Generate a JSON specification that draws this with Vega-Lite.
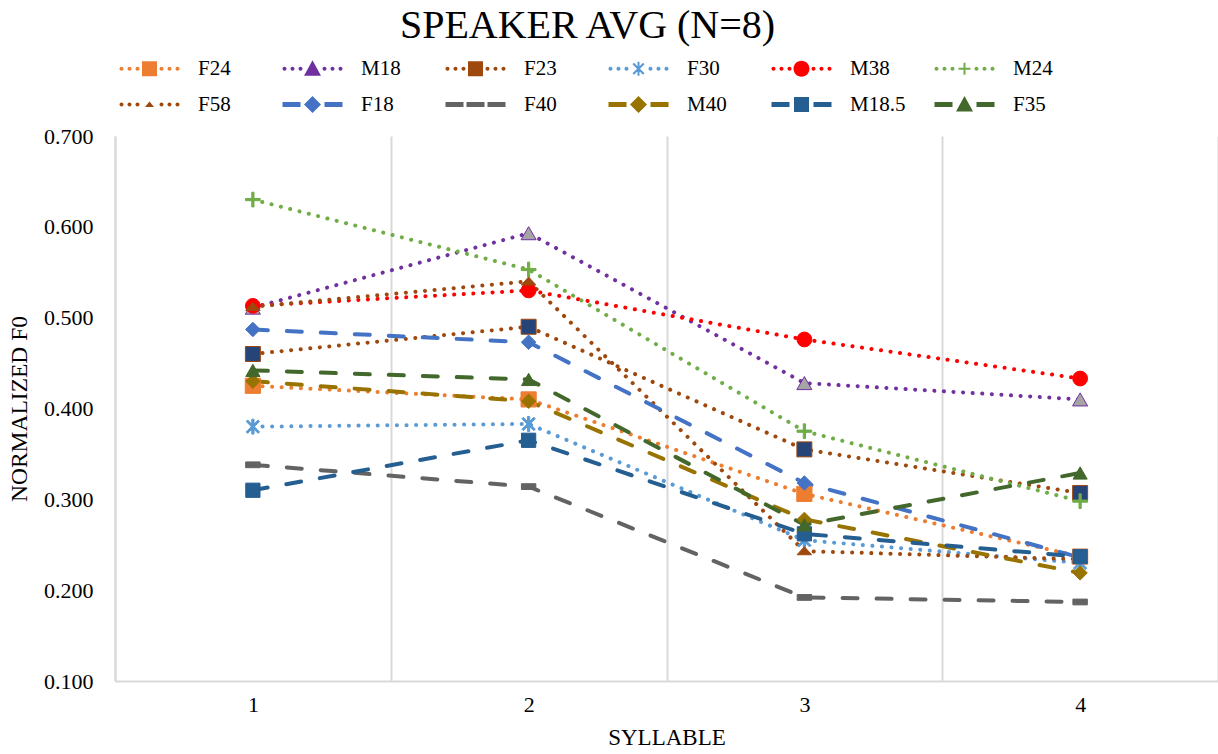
{
  "$schema": "https://vega.github.io/schema/vega-lite/v6.json",
  "width": 1103,
  "height": 545,
  "autosize": {"type": "none"},
  "padding": {"left": 115, "top": 136, "right": 0, "bottom": 73},
  "background": "white",
  "config": {"view": {"stroke": null}, "font": "Liberation Serif"},
  "title": {
    "text": "SPEAKER AVG (N=8)",
    "font": "Liberation Serif",
    "fontSize": 40,
    "fontWeight": "normal",
    "color": "#000000",
    "anchor": "middle",
    "frame": "group",
    "dx": -79,
    "offset": 12
  },
  "data": {
    "values": [
      {"s": "F24", "syllable": 1, "f0": 0.425}, {"s": "F24", "syllable": 2, "f0": 0.410}, {"s": "F24", "syllable": 3, "f0": 0.306}, {"s": "F24", "syllable": 4, "f0": 0.237},
      {"s": "M18", "syllable": 1, "f0": 0.511}, {"s": "M18", "syllable": 2, "f0": 0.593}, {"s": "M18", "syllable": 3, "f0": 0.428}, {"s": "M18", "syllable": 4, "f0": 0.410},
      {"s": "F23", "syllable": 1, "f0": 0.460}, {"s": "F23", "syllable": 2, "f0": 0.490}, {"s": "F23", "syllable": 3, "f0": 0.355}, {"s": "F23", "syllable": 4, "f0": 0.307},
      {"s": "F30", "syllable": 1, "f0": 0.380}, {"s": "F30", "syllable": 2, "f0": 0.383}, {"s": "F30", "syllable": 3, "f0": 0.255}, {"s": "F30", "syllable": 4, "f0": 0.230},
      {"s": "M38", "syllable": 1, "f0": 0.513}, {"s": "M38", "syllable": 2, "f0": 0.530}, {"s": "M38", "syllable": 3, "f0": 0.476}, {"s": "M38", "syllable": 4, "f0": 0.433},
      {"s": "M24", "syllable": 1, "f0": 0.630}, {"s": "M24", "syllable": 2, "f0": 0.553}, {"s": "M24", "syllable": 3, "f0": 0.375}, {"s": "M24", "syllable": 4, "f0": 0.298},
      {"s": "F58", "syllable": 1, "f0": 0.512}, {"s": "F58", "syllable": 2, "f0": 0.540}, {"s": "F58", "syllable": 3, "f0": 0.243}, {"s": "F58", "syllable": 4, "f0": 0.234},
      {"s": "F18", "syllable": 1, "f0": 0.487}, {"s": "F18", "syllable": 2, "f0": 0.473}, {"s": "F18", "syllable": 3, "f0": 0.318}, {"s": "F18", "syllable": 4, "f0": 0.236},
      {"s": "F40", "syllable": 1, "f0": 0.338}, {"s": "F40", "syllable": 2, "f0": 0.314}, {"s": "F40", "syllable": 3, "f0": 0.192}, {"s": "F40", "syllable": 4, "f0": 0.187},
      {"s": "M40", "syllable": 1, "f0": 0.430}, {"s": "M40", "syllable": 2, "f0": 0.408}, {"s": "M40", "syllable": 3, "f0": 0.278}, {"s": "M40", "syllable": 4, "f0": 0.219},
      {"s": "M18.5", "syllable": 1, "f0": 0.310}, {"s": "M18.5", "syllable": 2, "f0": 0.365}, {"s": "M18.5", "syllable": 3, "f0": 0.262}, {"s": "M18.5", "syllable": 4, "f0": 0.237},
      {"s": "F35", "syllable": 1, "f0": 0.442}, {"s": "F35", "syllable": 2, "f0": 0.432}, {"s": "F35", "syllable": 3, "f0": 0.272}, {"s": "F35", "syllable": 4, "f0": 0.329}
    ]
  },
  "encoding": {
    "x": {
      "field": "syllable",
      "type": "ordinal",
      "scale": {"type": "band", "paddingInner": 0, "paddingOuter": 0},
      "axis": {
        "title": "SYLLABLE",
        "tickBand": "extent",
        "grid": true,
        "gridColor": "#D9D9D9",
        "gridWidth": 2,
        "domainColor": "#D9D9D9",
        "domainWidth": 2,
        "ticks": false,
        "labelAngle": 0,
        "labelFont": "Liberation Serif",
        "labelFontSize": 22,
        "labelColor": "#000000",
        "labelPadding": 13,
        "titleFont": "Liberation Serif",
        "titleFontSize": 23,
        "titleFontWeight": "normal",
        "titleColor": "#000000",
        "titlePadding": 11
      }
    },
    "y": {
      "field": "f0",
      "type": "quantitative",
      "scale": {"domain": [0.1, 0.7], "nice": false, "zero": false},
      "axis": {
        "title": "NORMALIZED F0",
        "values": [0.1, 0.2, 0.3, 0.4, 0.5, 0.6, 0.7],
        "format": ".3f",
        "grid": false,
        "domainColor": "#D9D9D9",
        "domainWidth": 2,
        "ticks": false,
        "labelFont": "Liberation Serif",
        "labelFontSize": 22,
        "labelColor": "#000000",
        "labelPadding": 22,
        "titleFont": "Liberation Serif",
        "titleFontSize": 23.5,
        "titleFontWeight": "normal",
        "titleColor": "#000000",
        "titlePadding": 12
      }
    }
  },
  "layer": [
    {
      "mark": {"type": "line", "strokeCap": "round", "strokeJoin": "round"},
      "encoding": {
        "color": {
          "field": "s", "type": "nominal", "legend": null,
          "scale": {
            "domain": ["F24", "M18", "F23", "F30", "M38", "M24", "F58", "F18", "F40", "M40", "M18.5", "F35"],
            "range": ["#ED7D31", "#7030A0", "#9E480E", "#5B9BD5", "#FF0000", "#70AD47", "#9E480E", "#4472C4", "#636363", "#997300", "#255E91", "#43682B"]
          }
        },
        "strokeDash": {
          "field": "s", "type": "nominal", "legend": null,
          "scale": {
            "domain": ["F24", "M18", "F23", "F30", "M38", "M24", "F58", "F18", "F40", "M40", "M18.5", "F35"],
            "range": [[0.1, 9.5], [0.1, 9.5], [0.1, 9.5], [0.1, 9.5], [0.1, 9.5], [0.1, 9.5], [0.1, 9.5], [15, 19], [15, 19], [15, 19], [15, 19], [15, 19]]
          }
        },
        "strokeWidth": {
          "field": "s", "type": "nominal", "legend": null,
          "scale": {
            "domain": ["F24", "M18", "F23", "F30", "M38", "M24", "F58", "F18", "F40", "M40", "M18.5", "F35"],
            "range": [4, 4, 4, 4, 4, 4, 4, 5, 5, 5, 5, 5]
          }
        }
      }
    },
    {
      "mark": {"type": "point", "filled": true, "opacity": 1, "strokeWidth": 1},
      "encoding": {
        "shape": {
          "field": "s", "type": "nominal", "legend": null,
          "scale": {
            "domain": ["F24", "M18", "F23", "F30", "M38", "M24", "F58", "F18", "F40", "M40", "M18.5", "F35"],
            "range": [
              "square",
              "triangle-up",
              "square",
              "M-0.9,-0.7L-0.7,-0.9L0.9,0.7L0.7,0.9ZM0.7,-0.9L0.9,-0.7L-0.7,0.9L-0.9,0.7ZM-0.15,-1H0.15V1H-0.15Z",
              "circle",
              "M-1,-0.15H1V0.15H-1ZM-0.15,-1H0.15V1H-0.15Z",
              "M-1,0.5L0,-0.6L1,0.5Z",
              "diamond",
              "M-1,-0.4H1V0.4H-1Z",
              "diamond",
              "square",
              "triangle-up"
            ]
          }
        },
        "size": {
          "field": "s", "type": "nominal", "legend": null,
          "scale": {
            "domain": ["F24", "M18", "F23", "F30", "M38", "M24", "F58", "F18", "F40", "M40", "M18.5", "F35"],
            "range": [230, 200, 240, 160, 220, 130, 50, 260, 110, 260, 300, 260]
          }
        },
        "fill": {
          "field": "s", "type": "nominal", "legend": null,
          "scale": {
            "domain": ["F24", "M18", "F23", "F30", "M38", "M24", "F58", "F18", "F40", "M40", "M18.5", "F35"],
            "range": ["#ED7D31", "#A5A5A5", "#264478", "#5B9BD5", "#FF0000", "#70AD47", "#9E480E", "#4472C4", "#636363", "#997300", "#255E91", "#43682B"]
          }
        },
        "stroke": {
          "field": "s", "type": "nominal", "legend": null,
          "scale": {
            "domain": ["F24", "M18", "F23", "F30", "M38", "M24", "F58", "F18", "F40", "M40", "M18.5", "F35"],
            "range": ["#ED7D31", "#7030A0", "#9E480E", "#5B9BD5", "#FF0000", "#70AD47", "#9E480E", "#4472C4", "#636363", "#997300", "#255E91", "#43682B"]
          }
        }
      }
    },
    {
      "mark": {"type": "point", "filled": true, "opacity": 0},
      "encoding": {
        "color": {
          "field": "s", "type": "nominal",
          "scale": {
            "domain": ["F24", "M18", "F23", "F30", "M38", "M24", "F58", "F18", "F40", "M40", "M18.5", "F35"],
            "range": ["#ED7D31", "#7030A0", "#9E480E", "#5B9BD5", "#FF0000", "#70AD47", "#9E480E", "#4472C4", "#636363", "#997300", "#255E91", "#43682B"]
          },
          "legend": {
            "orient": "none", "legendX": 24, "legendY": -78, "direction": "horizontal", "columns": 6,
            "gridAlign": "all", "columnPadding": 28, "rowPadding": 14, "title": null,
            "labelFont": "Liberation Serif", "labelFontSize": 21, "labelColor": "#000000", "labelOffset": 38,
            "symbolSize": 400, "symbolOpacity": 1, "symbolStrokeWidth": 0
          }
        },
        "shape": {
          "field": "s", "type": "nominal",
          "scale": {
            "domain": ["F24", "M18", "F23", "F30", "M38", "M24", "F58", "F18", "F40", "M40", "M18.5", "F35"],
            "range": [
              "M-3,0A0.2,0.2 0 1 0 -2.6,0A0.2,0.2 0 1 0 -3,0ZM-2.2,0A0.2,0.2 0 1 0 -1.8,0A0.2,0.2 0 1 0 -2.2,0ZM-1.4,0A0.2,0.2 0 1 0 -1,0A0.2,0.2 0 1 0 -1.4,0ZM1,0A0.2,0.2 0 1 0 1.4,0A0.2,0.2 0 1 0 1,0ZM1.8,0A0.2,0.2 0 1 0 2.2,0A0.2,0.2 0 1 0 1.8,0ZM2.6,0A0.2,0.2 0 1 0 3,0A0.2,0.2 0 1 0 2.6,0ZM-0.75,-0.75H0.75V0.75H-0.75Z",
              "M-3,0A0.2,0.2 0 1 0 -2.6,0A0.2,0.2 0 1 0 -3,0ZM-2.2,0A0.2,0.2 0 1 0 -1.8,0A0.2,0.2 0 1 0 -2.2,0ZM-1.4,0A0.2,0.2 0 1 0 -1,0A0.2,0.2 0 1 0 -1.4,0ZM1,0A0.2,0.2 0 1 0 1.4,0A0.2,0.2 0 1 0 1,0ZM1.8,0A0.2,0.2 0 1 0 2.2,0A0.2,0.2 0 1 0 1.8,0ZM2.6,0A0.2,0.2 0 1 0 3,0A0.2,0.2 0 1 0 2.6,0ZM0,-0.85L0.85,0.7H-0.85Z",
              "M-3,0A0.2,0.2 0 1 0 -2.6,0A0.2,0.2 0 1 0 -3,0ZM-2.2,0A0.2,0.2 0 1 0 -1.8,0A0.2,0.2 0 1 0 -2.2,0ZM-1.4,0A0.2,0.2 0 1 0 -1,0A0.2,0.2 0 1 0 -1.4,0ZM1,0A0.2,0.2 0 1 0 1.4,0A0.2,0.2 0 1 0 1,0ZM1.8,0A0.2,0.2 0 1 0 2.2,0A0.2,0.2 0 1 0 1.8,0ZM2.6,0A0.2,0.2 0 1 0 3,0A0.2,0.2 0 1 0 2.6,0ZM-0.75,-0.75H0.75V0.75H-0.75Z",
              "M-3,0A0.2,0.2 0 1 0 -2.6,0A0.2,0.2 0 1 0 -3,0ZM-2.2,0A0.2,0.2 0 1 0 -1.8,0A0.2,0.2 0 1 0 -2.2,0ZM-1.4,0A0.2,0.2 0 1 0 -1,0A0.2,0.2 0 1 0 -1.4,0ZM1,0A0.2,0.2 0 1 0 1.4,0A0.2,0.2 0 1 0 1,0ZM1.8,0A0.2,0.2 0 1 0 2.2,0A0.2,0.2 0 1 0 1.8,0ZM2.6,0A0.2,0.2 0 1 0 3,0A0.2,0.2 0 1 0 2.6,0ZM-0.6,-0.45L-0.45,-0.6L0.6,0.45L0.45,0.6ZM0.45,-0.6L0.6,-0.45L-0.45,0.6L-0.6,0.45ZM-0.1,-0.7H0.1V0.7H-0.1Z",
              "M-3,0A0.2,0.2 0 1 0 -2.6,0A0.2,0.2 0 1 0 -3,0ZM-2.2,0A0.2,0.2 0 1 0 -1.8,0A0.2,0.2 0 1 0 -2.2,0ZM-1.4,0A0.2,0.2 0 1 0 -1,0A0.2,0.2 0 1 0 -1.4,0ZM1,0A0.2,0.2 0 1 0 1.4,0A0.2,0.2 0 1 0 1,0ZM1.8,0A0.2,0.2 0 1 0 2.2,0A0.2,0.2 0 1 0 1.8,0ZM2.6,0A0.2,0.2 0 1 0 3,0A0.2,0.2 0 1 0 2.6,0ZM-0.8,0A0.8,0.8 0 1 0 0.8,0A0.8,0.8 0 1 0 -0.8,0Z",
              "M-3,0A0.2,0.2 0 1 0 -2.6,0A0.2,0.2 0 1 0 -3,0ZM-2.2,0A0.2,0.2 0 1 0 -1.8,0A0.2,0.2 0 1 0 -2.2,0ZM-1.4,0A0.2,0.2 0 1 0 -1,0A0.2,0.2 0 1 0 -1.4,0ZM1,0A0.2,0.2 0 1 0 1.4,0A0.2,0.2 0 1 0 1,0ZM1.8,0A0.2,0.2 0 1 0 2.2,0A0.2,0.2 0 1 0 1.8,0ZM2.6,0A0.2,0.2 0 1 0 3,0A0.2,0.2 0 1 0 2.6,0ZM-0.6,-0.1H0.6V0.1H-0.6ZM-0.1,-0.6H0.1V0.6H-0.1Z",
              "M-3,0A0.2,0.2 0 1 0 -2.6,0A0.2,0.2 0 1 0 -3,0ZM-2.2,0A0.2,0.2 0 1 0 -1.8,0A0.2,0.2 0 1 0 -2.2,0ZM-1.4,0A0.2,0.2 0 1 0 -1,0A0.2,0.2 0 1 0 -1.4,0ZM1,0A0.2,0.2 0 1 0 1.4,0A0.2,0.2 0 1 0 1,0ZM1.8,0A0.2,0.2 0 1 0 2.2,0A0.2,0.2 0 1 0 1.8,0ZM2.6,0A0.2,0.2 0 1 0 3,0A0.2,0.2 0 1 0 2.6,0ZM-0.45,0.25L0,-0.3L0.45,0.25Z",
              "M-3,-0.25H-1.2V0.25H-3ZM1.2,-0.25H3V0.25H1.2ZM0,-0.85L0.85,0L0,0.85L-0.85,0Z",
              "M-3,-0.25H-1.2V0.25H-3ZM1.2,-0.25H3V0.25H1.2ZM-0.9,-0.25H0.9V0.25H-0.9Z",
              "M-3,-0.25H-1.2V0.25H-3ZM1.2,-0.25H3V0.25H1.2ZM0,-0.85L0.85,0L0,0.85L-0.85,0Z",
              "M-3,-0.25H-1.2V0.25H-3ZM1.2,-0.25H3V0.25H1.2ZM-0.75,-0.75H0.75V0.75H-0.75Z",
              "M-3,-0.25H-1.2V0.25H-3ZM1.2,-0.25H3V0.25H1.2ZM0,-0.85L0.85,0.7H-0.85Z"
            ]
          },
          "legend": {
            "orient": "none", "legendX": 24, "legendY": -78, "direction": "horizontal", "columns": 6,
            "gridAlign": "all", "columnPadding": 28, "rowPadding": 14, "title": null,
            "labelFont": "Liberation Serif", "labelFontSize": 21, "labelColor": "#000000", "labelOffset": 38,
            "symbolSize": 400, "symbolOpacity": 1, "symbolStrokeWidth": 0
          }
        }
      }
    }
  ],
  "resolve": {
    "scale": {"color": "independent", "shape": "independent", "size": "independent", "fill": "independent", "stroke": "independent", "strokeDash": "independent", "strokeWidth": "independent"},
    "legend": {"color": "independent", "shape": "independent"}
  }
}
